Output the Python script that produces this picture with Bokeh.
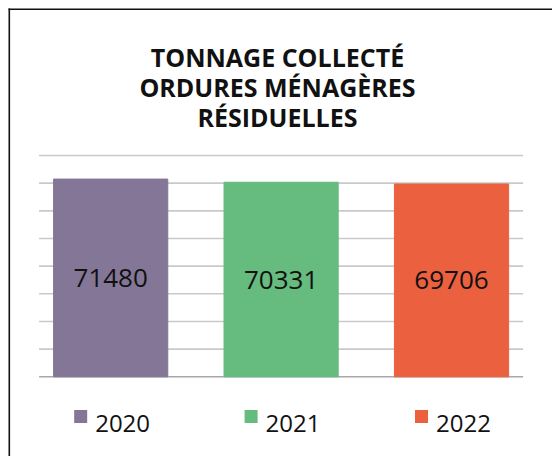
from bokeh.plotting import figure
from bokeh.models import Range1d, ColumnDataSource
from bokeh.core.properties import value
from bokeh.embed import file_html
from bokeh.resources import INLINE

years = ["2020", "2021", "2022"]
tonnages = [71480, 70331, 69706]
colors = ["#847697", "#66bb7e", "#eb603e"]
positions = [0, 1, 2]
grid_ticks = [10000, 20000, 30000, 40000, 50000, 60000, 70000, 80000]
title_lines = ["TONNAGE COLLECTÉ", "ORDURES MÉNAGÈRES", "RÉSIDUELLES"]

FONT = "Open Sans"

# ---- layout helpers: page pixels -> data units ----
W, H = 552, 456
BASE_PX, TOP_PX = 376.3, 155.0          # page y of value 0 and of value 80000
UNITS_PER_PX = 80000 / (BASE_PX - TOP_PX)
PLOT_L_PX, PLOT_R_PX = 38.6, 522.6      # page x of the plot area edges
X_START, X_END = -0.42, 2.42            # category span shown in the plot area
X_PX_PER_UNIT = (PLOT_R_PX - PLOT_L_PX) / (X_END - X_START)

def data_y(page_y):
    return (BASE_PX - page_y) * UNITS_PER_PX

def data_x(page_x):
    return X_START + (page_x - PLOT_L_PX) / X_PX_PER_UNIT

src = ColumnDataSource(dict(
    x=positions,
    top=tonnages,
    mid=[v / 2 for v in tonnages],
    label=[str(v) for v in tonnages],
    color=colors,
    year=years,
    leg_x=[x - 30 / X_PX_PER_UNIT for x in positions],
    leg_y=[data_y(416)] * len(years),
    leg_ty=[data_y(423)] * len(years),
))

p = figure(
    width=W, height=H,
    output_backend="svg", toolbar_location=None,
    x_range=Range1d(data_x(0), data_x(W)),
    y_range=Range1d(data_y(H), data_y(0)),
    min_border_left=0, min_border_right=0,
    min_border_top=0, min_border_bottom=0,
    title=None,
)
p.axis.visible = False
p.grid.visible = False
p.outline_line_color = None
p.background_fill_color = "white"
p.border_fill_color = "white"

# horizontal gridlines across the plot area
p.segment(x0=[X_START] * len(grid_ticks), x1=[X_END] * len(grid_ticks),
          y0=grid_ticks, y1=grid_ticks, line_color="#c9c9c9", line_width=1.6)
# baseline
p.segment(x0=[X_START], x1=[X_END], y0=[0], y1=[0], line_color="#a8a8a8", line_width=1.6)

# bars
bars = p.vbar(x="x", top="top", bottom=0, width=0.67, color="color", source=src)

# value labels
p.text(x="x", y="mid", text="label", source=src,
       text_align="center", text_baseline="middle",
       text_font=value(FONT), text_font_size="26px", text_color="#111111")

# title (three centred lines)
title_src = ColumnDataSource(dict(
    x=[data_x(277)] * 3,
    y=[data_y(56.3), data_y(86.3), data_y(116.3)],
    text=title_lines,
))
p.text(x="x", y="y", text="text", source=title_src,
       text_align="center", text_baseline="alphabetic",
       text_font=value(FONT), text_font_style="bold", text_font_size="25px",
       text_color="#111111")

# legend (swatch + year under each bar)
p.scatter(x="leg_x", y="leg_y", source=src, marker="square", size=13,
          fill_color="color", line_color=None)
p.text(x="leg_x", y="leg_ty", text="year", source=src, x_offset=14.5,
       text_align="left", text_baseline="alphabetic",
       text_font=value(FONT), text_font_size="24px", text_color="#111111")

# chart frame: left and top edges of the surrounding box
p.segment(x0=[data_x(8.8), data_x(8.0)], x1=[data_x(8.8), data_x(W)],
          y0=[data_y(8.0), data_y(8.8)], y1=[data_y(H), data_y(8.8)],
          line_color="#111111", line_width=1.6)

open("out.html", "w").write(file_html(p, INLINE))
